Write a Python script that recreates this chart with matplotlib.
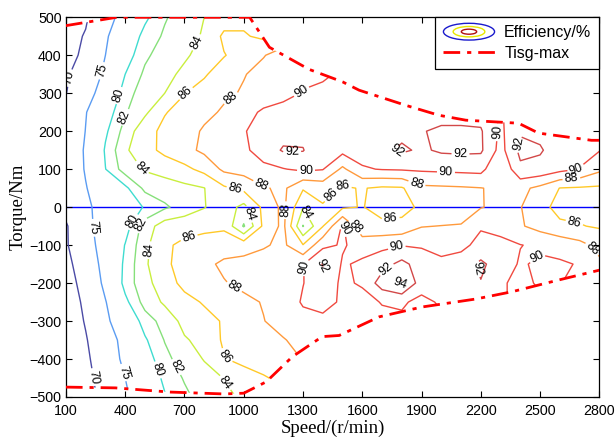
import numpy as np
import matplotlib
matplotlib.use("Agg")
import matplotlib.pyplot as plt
from matplotlib.patches import Polygon, Ellipse
from matplotlib.legend_handler import HandlerBase
from matplotlib.lines import Line2D

plt.rcParams['font.family'] = ['Liberation Sans', 'DejaVu Sans']

# grid of the efficiency map
speed = [100, 200, 300, 400, 500, 600, 700, 800, 900, 1000, 1100, 1200, 1300, 1400,
         1500, 1600, 1700, 1800, 1900, 2000, 2100, 2200, 2300, 2400, 2500, 2600, 2700, 2800]
torque = [500, 450, 400, 350, 300, 250, 200, 150, 100, 50, 0,
          -50, -100, -150, -200, -250, -300, -350, -400, -450, -500]

# efficiency (%) per torque row, one value per speed column
eff_p500 = [67.0, 69.5, 73.5, 76.5, 79.5, 81.8, 83.0, 84.0, 85.0, 85.5, 86.0, 87.0, 88.0, 88.8, 89.3, 89.8, 90.2, 90.5, 90.7, 90.8, 90.8, 90.8, 90.6, 90.7, 90.8, 90.8, 90.8, 90.8]
eff_p450 = [68.5, 70.3, 74.5, 77.8, 80.8, 82.3, 83.3, 84.2, 86.4, 86.2, 85.6, 86.8, 88.2, 89.0, 89.6, 90.0, 90.4, 90.6, 90.8, 90.9, 90.9, 90.8, 90.6, 90.7, 90.8, 90.8, 90.8, 90.8]
eff_p400 = [69.2, 70.5, 75.0, 78.8, 81.6, 83.0, 83.8, 84.5, 85.9, 86.8, 87.9, 88.8, 89.4, 89.8, 90.1, 90.4, 90.6, 90.8, 90.9, 91.0, 91.0, 90.9, 90.7, 90.8, 90.9, 90.9, 90.9, 90.9]
eff_p350 = [69.5, 72.0, 75.8, 80.0, 82.4, 83.6, 84.3, 85.8, 86.9, 87.9, 88.6, 89.2, 89.6, 89.8, 90.2, 90.5, 90.7, 90.9, 91.0, 91.1, 91.1, 91.0, 90.5, 90.9, 91.0, 91.0, 91.0, 91.0]
eff_p300 = [69.9, 73.0, 77.3, 81.0, 83.2, 84.0, 85.95, 86.7, 87.6, 88.2, 88.9, 89.5, 90.1, 90.3, 90.5, 90.7, 90.9, 91.1, 91.2, 91.3, 91.3, 91.2, 90.5, 91.1, 91.2, 91.2, 91.2, 91.2]
eff_p250 = [70.5, 74.8, 78.7, 81.8, 83.6, 85.9, 86.6, 87.4, 88.3, 89.3, 90.3, 90.6, 90.8, 90.8, 90.9, 91.0, 91.1, 91.2, 91.3, 91.3, 91.3, 91.2, 89.8, 91.2, 91.3, 91.3, 91.3, 91.3]
eff_p200 = [71.0, 75.1, 79.6, 82.8, 85.4, 86.4, 87.0, 88.3, 88.9, 89.9, 90.6, 91.3, 91.4, 90.8, 90.9, 91.0, 91.3, 91.5, 91.9, 92.3, 92.3, 92.2, 89.6, 91.8, 91.5, 91.2, 91.0, 90.8]
eff_p150 = [71.5, 75.5, 80.3, 83.7, 85.3, 86.5, 87.4, 88.4, 89.2, 89.6, 90.9, 92.2, 92.1, 90.3, 90.6, 90.8, 91.5, 92.3, 91.7, 92.3, 92.4, 92.3, 89.3, 92.5, 92.2, 91.0, 90.5, 90.1]
eff_p100 = [72.0, 75.3, 79.95, 83.0, 84.2, 84.8, 85.5, 86.6, 88.4, 88.8, 89.5, 89.9, 90.4, 90.1, 87.6, 89.8, 90.1, 90.2, 90.3, 90.4, 90.5, 90.6, 88.1, 91.6, 91.4, 90.6, 89.95, 88.4]
eff_p50 = [72.3, 74.8, 77.5, 79.5, 82.5, 83.0, 83.5, 83.95, 85.7, 86.5, 87.8, 88.4, 86.2, 86.8, 85.8, 86.1, 85.7, 85.8, 87.6, 87.7, 87.8, 87.95, 88.3, 88.5, 87.5, 85.95, 85.8, 85.7]
eff_0 = [71.2, 74.2, 76.7, 78.5, 80.2, 81.7, 82.8, 83.9, 85.1, 83.4, 86.5, 88.5, 84.1, 85.8, 85.7, 86.1, 85.2, 85.3, 86.4, 86.3, 87.2, 87.9, 88.5, 88.1, 86.5, 85.5, 85.4, 85.6]
eff_m50 = [69.6, 73.5, 77.5, 79.0, 83.0, 85.0, 85.3, 85.5, 85.6, 81.8, 86.4, 88.5, 81.9, 85.9, 90.3, 86.4, 86.5, 86.6, 87.9, 88.05, 88.1, 89.8, 89.5, 88.2, 87.3, 86.3, 86.1, 85.8]
eff_m100 = [69.6, 73.0, 77.0, 80.1, 83.5, 85.7, 86.4, 86.8, 87.2, 87.2, 87.8, 88.4, 86.1, 89.5, 90.2, 89.3, 89.5, 89.9, 89.8, 89.4, 89.5, 90.6, 90.4, 90.05, 89.7, 89.4, 88.6, 87.4]
eff_m150 = [69.2, 71.6, 76.8, 80.5, 83.7, 85.6, 86.8, 87.6, 88.3, 88.6, 88.8, 88.7, 89.9, 92.2, 89.8, 90.3, 91.2, 92.6, 91.0, 90.4, 90.9, 92.4, 91.0, 89.8, 90.3, 90.2, 89.9, 88.4]
eff_m200 = [68.6, 71.2, 76.0, 80.8, 83.4, 85.0, 86.6, 87.3, 87.9, 88.4, 88.6, 88.9, 89.95, 91.0, 89.7, 90.2, 93.0, 94.3, 91.0, 90.5, 90.8, 91.9, 90.3, 89.4, 90.3, 90.05, 89.6, 88.5]
eff_m250 = [68.0, 70.7, 74.8, 79.4, 82.8, 84.3, 85.3, 86.2, 86.9, 87.6, 88.1, 88.9, 90.2, 90.7, 89.7, 89.4, 90.1, 90.3, 89.4, 90.3, 90.5, 90.5, 90.2, 89.6, 89.6, 89.5, 89.3, 88.5]
eff_m300 = [67.4, 70.3, 74.2, 77.6, 81.0, 82.8, 84.6, 85.3, 86.2, 87.0, 87.95, 88.6, 89.4, 89.5, 89.3, 89.2, 89.5, 89.6, 89.6, 89.6, 89.6, 89.6, 89.6, 89.5, 89.4, 89.3, 89.2, 88.5]
eff_m350 = [66.8, 69.7, 73.0, 76.3, 79.7, 82.1, 83.8, 84.6, 86.3, 86.8, 87.3, 87.9, 88.5, 89.0, 89.1, 89.1, 89.2, 89.2, 89.2, 89.2, 89.2, 89.2, 89.2, 89.2, 89.2, 89.1, 89.0, 88.5]
eff_m400 = [66.2, 69.2, 72.6, 75.9, 78.8, 81.4, 83.0, 84.1, 85.9, 86.5, 87.0, 87.5, 88.05, 88.5, 88.7, 88.8, 88.9, 88.9, 88.9, 88.9, 88.9, 88.9, 88.9, 88.9, 88.9, 88.8, 88.7, 88.4]
eff_m450 = [65.6, 68.7, 72.0, 75.0, 78.0, 80.5, 82.2, 83.3, 84.05, 85.2, 85.8, 86.5, 87.0, 87.6, 88.1, 88.2, 88.4, 88.5, 88.5, 88.5, 88.5, 88.5, 88.5, 88.5, 88.5, 88.4, 88.3, 88.2]
eff_m500 = [65.0, 68.2, 71.5, 74.4, 77.3, 79.8, 81.5, 82.9, 83.7, 84.2, 85.3, 86.05, 86.5, 87.0, 87.4, 87.6, 87.8, 87.9, 87.9, 87.9, 87.9, 87.9, 87.9, 87.9, 87.9, 87.8, 87.7, 87.6]

# Tisg-max envelope
tmax_speed_upper = [100, 357, 1030, 1130, 1330, 1500, 1584, 1821, 1988, 2124, 2391, 2492, 2760, 2800]
tmax_torque_upper = [478, 500, 500, 421, 363, 330, 308, 268, 242, 229, 221, 195, 176, 176]
tmax_speed_lower = [100, 350, 625, 900, 1000, 1114, 1246, 1397, 1483, 1685, 1902, 2174, 2356, 2593, 2800]
tmax_torque_lower = [-474, -476, -487, -492, -490, -460, -394, -341, -338, -289, -263, -242, -223, -192, -166]

levels = [70, 75, 80, 82, 84, 86, 88, 90, 92, 94]
level_colors = ['#4b4ba6', '#5b9cf2', '#3fdcd0', '#86e07a', '#c9ee3e',
                '#ffc928', '#ff9a3c', '#f04a40', '#d24848', '#b05656']

label_spots = [
    (130, 339), (272, 360), (362, 295), (398, 237), (761, 434), (700, 303), (943, 282), (1296, 303),
    (1246, 124), (483, 103), (953, 39), (1095, 66), (1316, 89),
    (1044, -16), (1210, -8), (1347, -3), (1432, 37), (1508, 76),
    (1775, 145), (2023, 84), (1877, 63), (2420, 163), (2100, 170), (2290, 197),
    (2684, 97), (2659, 71), (2684, -16), (2745, -118), (2457, -113), (2200, -158), (1776, -108),
    (1725, -166), (1790, -200), (1508, -55), (1559, -55), (1745, -39), (1306, -158), (1382, -158),
    (726, -87), (514, -113), (448, -42), (498, -53), (231, -55), (943, -218), (902, -395), (913, -460),
    (660, -421), (564, -429), (383, -437), (246, -447),
]

eff = np.array([eff_p500, eff_p450, eff_p400, eff_p350, eff_p300, eff_p250, eff_p200,
                eff_p150, eff_p100, eff_p50, eff_0, eff_m50, eff_m100, eff_m150,
                eff_m200, eff_m250, eff_m300, eff_m350, eff_m400, eff_m450, eff_m500])

fig = plt.figure(figsize=(6.16, 4.41), dpi=100)
ax = fig.add_axes([0.107, 0.0998, 0.866, 0.861])

cs = ax.contour(speed, torque, eff, levels=levels, colors=level_colors, linewidths=1.0)

envelope = list(zip(tmax_speed_upper, tmax_torque_upper)) + \
    list(zip(tmax_speed_lower[::-1], tmax_torque_lower[::-1]))
clip = Polygon(envelope, closed=True, facecolor='none', edgecolor='none',
               transform=ax.transData)
ax.add_patch(clip)
cs.set_clip_path(clip)

ax.clabel(cs, levels, inline=True, fmt='%d', fontsize=9, colors='black',
          manual=label_spots, inline_spacing=2)

ax.axhline(0, color='#0000ff', lw=1.0, zorder=1)

dash = (0, (6, 2.5, 1.5, 2.5))
ax.plot(tmax_speed_upper, tmax_torque_upper, color='#ff0000', lw=2.0, linestyle=dash, zorder=5)
ax.plot(tmax_speed_lower, tmax_torque_lower, color='#ff0000', lw=2.0, linestyle=dash, zorder=5)

ax.set_xlim(100, 2800)
ax.set_ylim(-500, 500)
ax.set_xticks([100, 400, 700, 1000, 1300, 1600, 1900, 2200, 2500, 2800])
ax.set_yticks(range(-500, 501, 100))
ax.tick_params(direction='in', top=True, right=True, length=4, width=0.8,
               labelsize=10.3)
ax.tick_params(axis='x', pad=5)
ax.tick_params(axis='y', pad=3)
for sp in ax.spines.values():
    sp.set_linewidth(0.9)

ax.set_xlabel('Speed/(r/min)', family='Liberation Serif', fontsize=13.5, labelpad=1)
ax.set_ylabel('Torque/Nm', family='Liberation Serif', fontsize=13.5, labelpad=2)


class EfficiencyKey:
    pass


class EllipseKeyHandler(HandlerBase):
    def create_artists(self, legend, orig_handle, xdescent, ydescent, width,
                       height, fontsize, trans):
        cx = width / 2 - xdescent
        cy = height / 2 - ydescent
        out = []
        for scale, col in [(1.0, '#1a1acc'), (0.62, '#e8e800'), (0.3, '#b01010')]:
            e = Ellipse((cx, cy), width * scale, height * 1.5 * scale, fill=False,
                        edgecolor=col, lw=1.0, transform=trans)
            out.append(e)
        return out


tmax_key = Line2D([], [], color='#ff0000', lw=2.0, linestyle=dash)
leg = ax.legend([EfficiencyKey(), tmax_key], ['Efficiency/%', 'Tisg-max'],
                handler_map={EfficiencyKey: EllipseKeyHandler()},
                loc='upper right', borderaxespad=0, fontsize=11.5, handlelength=3.2,
                fancybox=False, edgecolor='black', framealpha=1, borderpad=0.5,
                labelspacing=0.35, handletextpad=0.6)
leg.get_frame().set_linewidth(0.9)

fig.savefig('out.png', dpi=100)
